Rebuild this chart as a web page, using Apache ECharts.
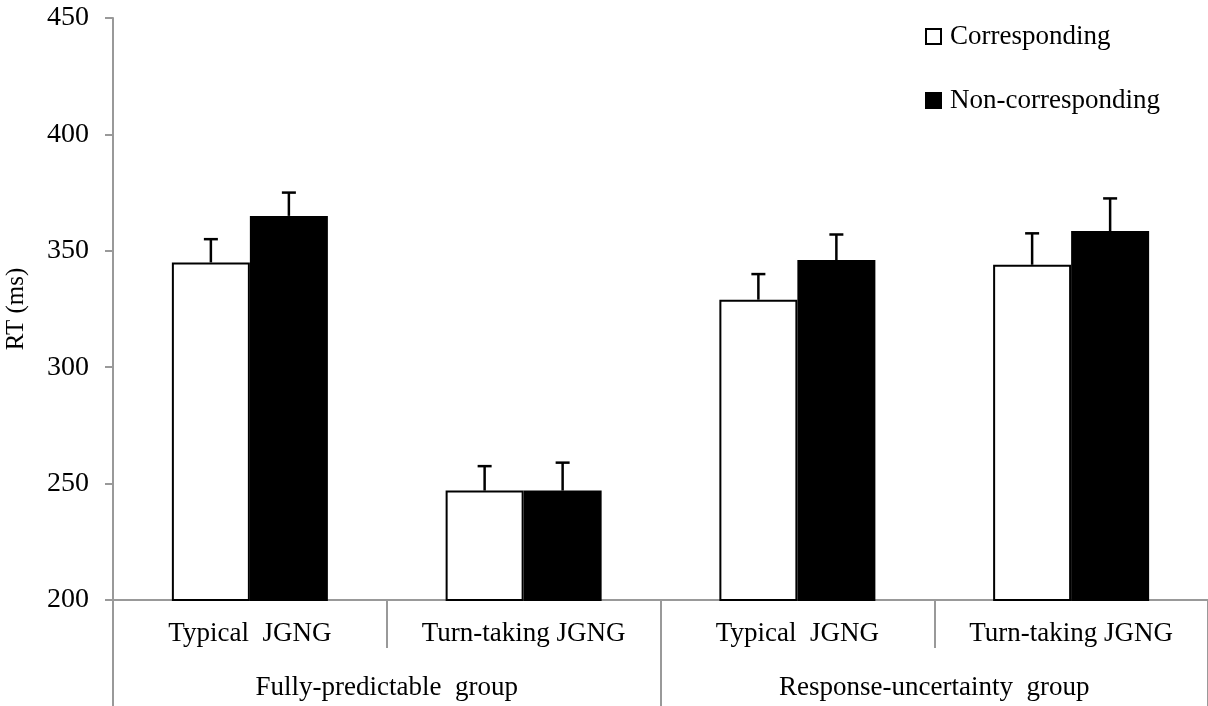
<!DOCTYPE html>
<html>
<head>
<meta charset="utf-8">
<script src="https://cdn.jsdelivr.net/npm/echarts@6/dist/echarts.min.js"></script>
<style>html,body{margin:0;padding:0;background:#fff}#c{width:1208px;height:706px}</style>
</head>
<body>
<div id="c"></div>
<script>
var categories = ['Typical  JGNG', 'Turn-taking JGNG', 'Typical  JGNG', 'Turn-taking JGNG'];
var groups = ['Fully-predictable  group', 'Response-uncertainty  group'];
var corresponding = [345, 247, 329, 344];
var nonCorresponding = [365, 247, 346, 358.5];
var correspondingErr = [10, 10.5, 11, 13.5];
var nonCorrespondingErr = [10, 12, 11, 14];
var yTicks = [200, 250, 300, 350, 400, 450];

var FONT = '"Liberation Serif", "Times New Roman", serif';
var BAR_W = 78;

function errSeries(vals, errs, side) {
  return {
    type: 'custom',
    xAxisIndex: 0,
    z: 10,
    encode: { x: 0, y: 1 },
    data: vals.map(function (v, i) { return [i, v, errs[i]]; }),
    renderItem: function (params, api) {
      var i = api.value(0), v = api.value(1), e = api.value(2);
      var p0 = api.coord([i, v]);
      var p1 = api.coord([i, v + e]);
      var cx = p0[0] + side * BAR_W / 2;
      return {
        type: 'group',
        children: [
          { type: 'line', shape: { x1: cx, y1: p0[1], x2: cx, y2: p1[1] }, style: { stroke: '#000', lineWidth: 2.5 } },
          { type: 'line', shape: { x1: cx - 7, y1: p1[1], x2: cx + 7, y2: p1[1] }, style: { stroke: '#000', lineWidth: 2.5 } }
        ]
      };
    }
  };
}

var chart = echarts.init(document.getElementById('c'), null, { renderer: 'canvas' });
chart.setOption({
  animation: false,
  backgroundColor: '#fff',
  textStyle: { fontFamily: FONT },
  grid: { left: 113, right: 0, top: 18, bottom: 106, containLabel: false, outerBoundsMode: 'none' },
  legend: {
    data: ['Corresponding', 'Non-corresponding'],
    orient: 'vertical',
    left: 920,
    top: 18,
    itemWidth: 15,
    itemHeight: 15,
    itemGap: 37,
    icon: 'rect',
    textStyle: { fontFamily: FONT, fontSize: 27, color: '#000', padding: [0, 0, 0, 4] }
  },
  xAxis: [
    {
      type: 'category',
      data: categories,
      position: 'bottom',
      axisLine: { show: true, lineStyle: { color: '#999', width: 2 } },
      axisTick: { show: true, interval: 0, length: 48, lineStyle: { color: '#999', width: 2 } },
      axisLabel: { interval: 0, fontFamily: FONT, fontSize: 27, color: '#000', margin: 20 }
    },
    {
      type: 'category',
      data: groups,
      position: 'bottom',
      offset: 0,
      axisLine: { show: false },
      axisTick: { show: true, interval: 0, length: 106, lineStyle: { color: '#999', width: 2 } },
      axisLabel: { interval: 0, fontFamily: FONT, fontSize: 27, color: '#000', margin: 74 }
    }
  ],
  yAxis: {
    type: 'value',
    min: yTicks[0],
    max: yTicks[yTicks.length - 1],
    interval: 50,
    name: 'RT (ms)',
    nameLocation: 'middle',
    nameGap: 84,
    nameTextStyle: { fontFamily: FONT, fontSize: 25, color: '#000' },
    axisLine: { show: true, lineStyle: { color: '#999', width: 2 } },
    axisTick: { show: true, length: 8, lineStyle: { color: '#999', width: 2 } },
    axisLabel: { fontFamily: FONT, fontSize: 28, color: '#000', margin: 24 },
    splitLine: { show: false }
  },
  series: [
    {
      name: 'Corresponding',
      type: 'bar',
      data: corresponding,
      barWidth: BAR_W,
      barGap: '0%',
      itemStyle: { color: '#fff', borderColor: '#000', borderWidth: 2 }
    },
    {
      name: 'Non-corresponding',
      type: 'bar',
      data: nonCorresponding,
      barWidth: BAR_W,
      barGap: '0%',
      itemStyle: { color: '#000', borderColor: '#000', borderWidth: 2 }
    },
    errSeries(corresponding, correspondingErr, -1),
    errSeries(nonCorresponding, nonCorrespondingErr, 1)
  ]
});
</script>
</body>
</html>
